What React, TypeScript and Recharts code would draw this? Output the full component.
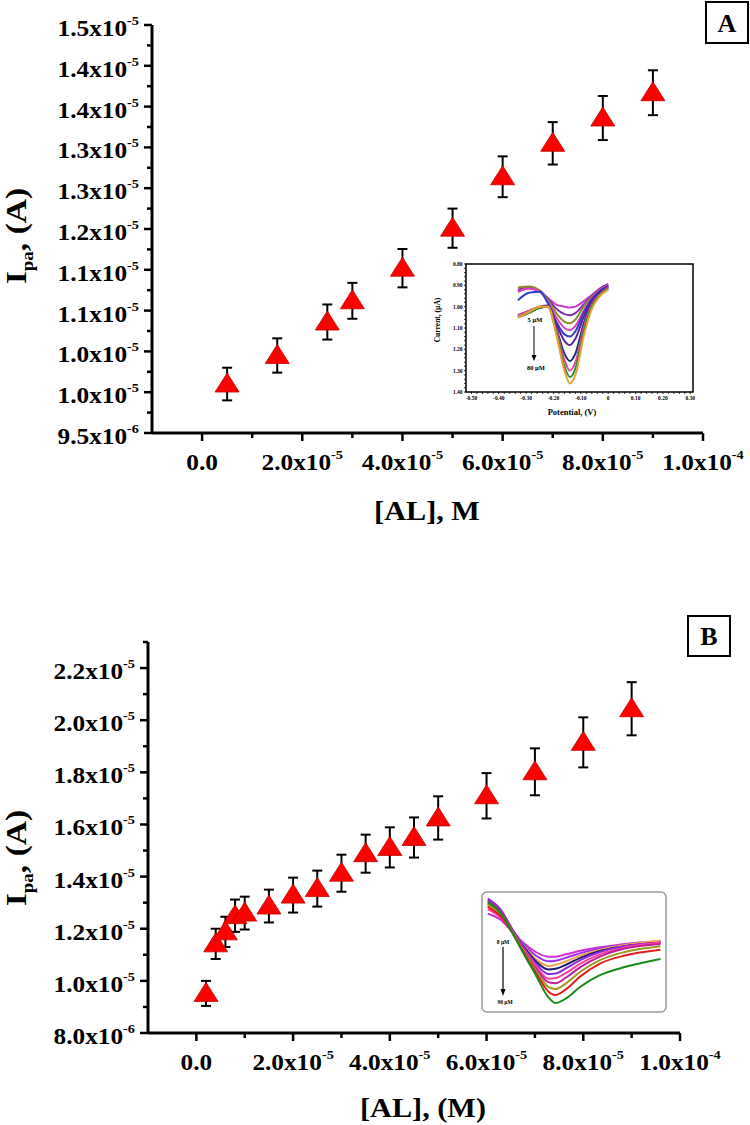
import React from 'react';
import { ScatterChart, Scatter, XAxis, YAxis, ErrorBar, LineChart, Line } from 'recharts';

const FONT = '"Liberation Serif", "Times New Roman", serif';

// ---------- panel A : Ipa vs [AL], M
const concA = [5e-6, 1.5e-5, 2.5e-5, 3e-5, 4e-5, 5e-5, 6e-5, 7e-5, 8e-5, 9e-5];
const ipaA = [1.01e-5, 1.045e-5, 1.086e-5, 1.112e-5, 1.152e-5, 1.201e-5, 1.264e-5, 1.305e-5, 1.336e-5, 1.367e-5];
const errA = [2.0e-7, 2.1e-7, 2.15e-7, 2.2e-7, 2.35e-7, 2.4e-7, 2.5e-7, 2.6e-7, 2.7e-7, 2.75e-7];

const yTicksA = [9.5e-6, 1.0e-5, 1.05e-5, 1.1e-5, 1.15e-5, 1.2e-5, 1.25e-5, 1.3e-5, 1.35e-5, 1.4e-5, 1.45e-5];
const yLabelsA = ['9.5', '1.0', '1.0', '1.1', '1.1', '1.2', '1.3', '1.3', '1.4', '1.4', '1.5'];
const yExpA = ['-6', '-5', '-5', '-5', '-5', '-5', '-5', '-5', '-5', '-5', '-5'];
const yMinorA = [9.75e-6, 1.025e-5, 1.075e-5, 1.125e-5, 1.175e-5, 1.225e-5, 1.275e-5, 1.325e-5, 1.375e-5, 1.425e-5];

// ---------- panel B : Ipa vs [AL], (M)
const concB = [2e-6, 4e-6, 6e-6, 8e-6, 1e-5, 1.5e-5, 2e-5, 2.5e-5, 3e-5, 3.5e-5, 4e-5, 4.5e-5, 5e-5, 6e-5, 7e-5, 8e-5, 9e-5];
const ipaB = [9.52e-6, 1.142e-5, 1.188e-5, 1.25e-5, 1.26e-5, 1.287e-5, 1.329e-5, 1.354e-5, 1.413e-5, 1.488e-5, 1.512e-5, 1.55e-5, 1.625e-5, 1.71e-5, 1.802e-5, 1.915e-5, 2.044e-5];
const errB = [4.8e-7, 5.8e-7, 5.8e-7, 6.2e-7, 6.3e-7, 6.3e-7, 6.7e-7, 6.9e-7, 7.1e-7, 7.3e-7, 7.7e-7, 7.7e-7, 8.3e-7, 8.7e-7, 9.0e-7, 9.6e-7, 1.02e-6];

const yTicksB = [8e-6, 1e-5, 1.2e-5, 1.4e-5, 1.6e-5, 1.8e-5, 2e-5, 2.2e-5];
const yLabelsB = ['8.0', '1.0', '1.2', '1.4', '1.6', '1.8', '2.0', '2.2'];
const yExpB = ['-6', '-5', '-5', '-5', '-5', '-5', '-5', '-5'];
const yMinorB = [9e-6, 1.1e-5, 1.3e-5, 1.5e-5, 1.7e-5, 1.9e-5, 2.1e-5, 2.3e-5];

// shared x axis
const xTicks = [0, 2e-5, 4e-5, 6e-5, 8e-5, 1e-4];
const xLabels = ['0.0', '2.0', '4.0', '6.0', '8.0', '1.0'];
const xExp = ['', '-5', '-5', '-5', '-5', '-4'];
const xMinor = [1e-5, 3e-5, 5e-5, 7e-5, 9e-5];

// ---------- inset A : DPV curves, current (uA) vs potential (V)
const potentialA = [-0.33, -0.29, -0.25, -0.22, -0.19, -0.16, -0.14, -0.12, -0.09, -0.06, -0.03, 0.0];
const traceA1 = [0.93, 0.915, 0.93, 0.96, 0.99, 1.0, 1.004, 1.0, 0.975, 0.945, 0.915, 0.895];
const traceA2 = [0.92, 0.91, 0.925, 0.965, 1.01, 1.035, 1.04, 1.03, 0.99, 0.95, 0.915, 0.895];
const traceA3 = [0.91, 0.905, 0.925, 0.97, 1.03, 1.07, 1.078, 1.06, 1.0, 0.955, 0.92, 0.9];
const traceA4 = [0.93, 0.915, 0.93, 0.98, 1.05, 1.1, 1.11, 1.09, 1.02, 0.96, 0.92, 0.9];
const traceA5 = [0.97, 0.935, 0.93, 0.985, 1.07, 1.13, 1.14, 1.115, 1.03, 0.965, 0.925, 0.905];
const traceA6 = [1.04, 1.02, 1.0, 0.995, 1.08, 1.16, 1.18, 1.15, 1.05, 0.975, 0.93, 0.905];
const traceA7 = [1.05, 1.025, 1.005, 1.0, 1.1, 1.22, 1.255, 1.22, 1.08, 0.985, 0.935, 0.91];
const traceA8 = [1.04, 1.02, 1.0, 1.0, 1.11, 1.25, 1.3, 1.26, 1.1, 0.99, 0.94, 0.91];
const traceA9 = [1.05, 1.03, 1.005, 1.0, 1.12, 1.28, 1.33, 1.29, 1.12, 1.0, 0.945, 0.915];
const traceA10 = [1.05, 1.025, 1.0, 1.0, 1.13, 1.3, 1.36, 1.32, 1.14, 1.01, 0.95, 0.92];
const tracesA = [traceA1, traceA2, traceA3, traceA4, traceA5, traceA6, traceA7, traceA8, traceA9, traceA10];
const colorsA = ['#c83cc8', '#7a2fb0', '#8c8c2a', '#e040c0', '#2f3fc4', '#5a1f9a', '#22306e', '#e04a90', '#2e8b3a', '#e8a030'];
const insetXTicks = [-0.5, -0.4, -0.3, -0.2, -0.1, 0, 0.1, 0.2, 0.3];
const insetYTicks = [0.8, 0.9, 1.0, 1.1, 1.2, 1.3, 1.4];
// small unlabelled ticks between the labelled ones
const insetXMinor = insetXTicks.slice(0, -1).flatMap((t) => [1, 2, 3, 4].map((k) => t + k * 0.02));
const insetYMinor = insetYTicks.slice(0, -1).flatMap((t) => [1, 2, 3, 4].map((k) => t + k * 0.02));

// ---------- inset B : DPV curves (no axes, normalised units)
const positionB = [0.01, 0.08, 0.15, 0.21, 0.28, 0.35, 0.39, 0.45, 0.53, 0.64, 0.78, 0.98];
const traceB1 = [0.17, 0.22, 0.33, 0.42, 0.5, 0.54, 0.54, 0.52, 0.49, 0.46, 0.43, 0.41];
const traceB2 = [0.05, 0.14, 0.31, 0.43, 0.53, 0.58, 0.575, 0.55, 0.51, 0.47, 0.44, 0.41];
const traceB3 = [0.1, 0.18, 0.32, 0.44, 0.56, 0.62, 0.61, 0.58, 0.53, 0.48, 0.44, 0.4];
const traceB4 = [0.08, 0.16, 0.32, 0.45, 0.58, 0.65, 0.645, 0.61, 0.55, 0.49, 0.45, 0.42];
const traceB5 = [0.04, 0.13, 0.31, 0.46, 0.6, 0.69, 0.685, 0.64, 0.57, 0.5, 0.45, 0.42];
const traceB6 = [0.13, 0.2, 0.33, 0.47, 0.62, 0.73, 0.725, 0.68, 0.6, 0.52, 0.46, 0.42];
const traceB7 = [0.06, 0.15, 0.32, 0.48, 0.64, 0.76, 0.77, 0.72, 0.63, 0.54, 0.47, 0.43];
const traceB8 = [0.09, 0.17, 0.33, 0.49, 0.66, 0.8, 0.82, 0.77, 0.67, 0.57, 0.5, 0.45];
const traceB9 = [0.11, 0.19, 0.34, 0.5, 0.68, 0.84, 0.87, 0.82, 0.71, 0.6, 0.53, 0.48];
const traceB10 = [0.07, 0.16, 0.34, 0.51, 0.7, 0.89, 0.94, 0.9, 0.8, 0.7, 0.63, 0.56];
const tracesB = [traceB1, traceB2, traceB3, traceB4, traceB5, traceB6, traceB7, traceB8, traceB9, traceB10];
const colorsB = ['#d12fd1', '#9b30ff', '#f0a050', '#1c1c6b', '#8a2be2', '#ff3fa0', '#c0209a', '#9a9a20', '#e02020', '#1a8a1a'];

const rowsA = concA.map((x, i) => ({ x, y: ipaA[i], err: errA[i] }));
const rowsB = concB.map((x, i) => ({ x, y: ipaB[i], err: errB[i] }));

function curveRows(xs: number[], traces: number[][]) {
  return xs.map((p, i) => {
    const r: any = { p };
    traces.forEach((t, k) => (r['t' + k] = t[i]));
    return r;
  });
}
const insetRowsA = curveRows(potentialA, tracesA);
const insetRowsB = curveRows(positionB, tracesB);

const Triangle = (p: any) => (
  <polygon
    points={`${p.cx},${p.cy - 11} ${p.cx - 12},${p.cy + 8} ${p.cx + 12},${p.cy + 8}`}
    fill="#ff0000"
    stroke="#c00000"
    strokeWidth={0.8}
  />
);
const NoMark = () => <g />;

// tick with hand-drawn tick line, label with superscript exponent
function makeTick(side: 'left' | 'bottom', major: number[], labels: string[], exps: string[]) {
  return (props: any) => {
    const { x, y, payload } = props;
    const i = major.findIndex((m) => Math.abs(m - payload.value) < 1e-12);
    const len = i >= 0 ? 8 : 5;
    const label =
      i < 0 ? null : exps[i] ? (
        <>
          {labels[i]}x10<tspan dy={-11} fontSize={13}>{exps[i]}</tspan>
        </>
      ) : (
        labels[i]
      );
    if (side === 'left') {
      return (
        <g>
          <line x1={x} x2={x - len} y1={y} y2={y} stroke="#000" strokeWidth={2.5} />
          {label && (
            <text transform={`translate(${x - 13},${y + 11}) scale(1.1,1)`} textAnchor="end" fontFamily={FONT} fontWeight="bold" fontSize={23} fill="#000">
              {label}
            </text>
          )}
        </g>
      );
    }
    return (
      <g>
        <line x1={x} x2={x} y1={y} y2={y + len} stroke="#000" strokeWidth={2.5} />
        {label && (
          <text transform={`translate(${x},${y + 37}) scale(1.1,1)`} textAnchor="middle" fontFamily={FONT} fontWeight="bold" fontSize={23} fill="#000">
            {label}
          </text>
        )}
      </g>
    );
  };
}

function MainPanel(props: {
  rows: any[];
  yDomain: [number, number];
  yMajor: number[];
  yMinor: number[];
  yLabels: string[];
  yExp: string[];
  height: number;
  margin: any;
}) {
  const { rows, yDomain, yMajor, yMinor, yLabels, yExp, height, margin } = props;
  return (
    <ScatterChart width={750} height={height} margin={margin}>
      <XAxis
        type="number"
        dataKey="x"
        domain={[-1e-5, 1e-4]}
        ticks={[...xTicks, ...xMinor].sort((a, b) => a - b)}
        interval={0}
        height={30}
        tickSize={0}
        tickMargin={0}
        allowDataOverflow
        axisLine={{ stroke: '#000', strokeWidth: 3 }}
        tickLine={false}
        tick={makeTick('bottom', xTicks, xLabels, xExp)}
      />
      <YAxis
        type="number"
        dataKey="y"
        domain={yDomain}
        ticks={[...yMajor, ...yMinor].sort((a, b) => a - b)}
        interval={0}
        width={60}
        tickSize={0}
        tickMargin={0}
        allowDataOverflow
        axisLine={{ stroke: '#000', strokeWidth: 3 }}
        tickLine={false}
        tick={makeTick('left', yMajor, yLabels, yExp)}
      />
      <Scatter data={rows} shape={Triangle} isAnimationActive={false} />
      <Scatter data={rows} shape={NoMark} isAnimationActive={false}>
        <ErrorBar dataKey="err" direction="y" width={5} stroke="#000" strokeWidth={2} />
      </Scatter>
    </ScatterChart>
  );
}

const insetTickStyle = { fontSize: 5.5, fontFamily: FONT, fontWeight: 'bold', fill: '#000' } as any;
const isLabelled = (list: number[], v: number) => list.some((t) => Math.abs(t - v) < 1e-6);

function InsetA() {
  return (
    <LineChart width={285} height={170} data={insetRowsA} margin={{ top: 9, right: 12, bottom: 18, left: 26 }}>
      <XAxis
        type="number"
        dataKey="p"
        domain={[-0.52, 0.31]}
        ticks={[...insetXTicks, ...insetXMinor].sort((a, b) => a - b)}
        interval={0}
        height={15}
        allowDataOverflow
        axisLine={false}
        tickSize={2}
        tickMargin={2}
        tickLine={{ stroke: '#000', strokeWidth: 0.8 }}
        tick={insetTickStyle}
        tickFormatter={(v: number) => (!isLabelled(insetXTicks, v) ? '' : Math.abs(v) < 1e-6 ? '0' : v.toFixed(2))}
      />
      <YAxis
        type="number"
        domain={[0.8, 1.4]}
        reversed
        ticks={[...insetYTicks, ...insetYMinor].sort((a, b) => a - b)}
        interval={0}
        width={20}
        allowDataOverflow
        axisLine={false}
        tickSize={2}
        tickMargin={1.5}
        tickLine={{ stroke: '#000', strokeWidth: 0.8 }}
        tick={insetTickStyle}
        tickFormatter={(v: number) => (isLabelled(insetYTicks, v) ? v.toFixed(2) : '')}
      />
      {tracesA.map((_, k) => (
        <Line key={k} dataKey={'t' + k} type="monotone" stroke={colorsA[k]} strokeWidth={2} dot={false} isAnimationActive={false} />
      ))}
    </LineChart>
  );
}

function InsetB() {
  return (
    <LineChart width={184} height={120} data={insetRowsB} margin={{ top: 2, right: 2, bottom: 2, left: 4 }}>
      <XAxis type="number" dataKey="p" domain={[0, 1]} hide />
      <YAxis type="number" domain={[0, 1]} reversed hide />
      {tracesB.map((_, k) => (
        <Line key={k} dataKey={'t' + k} type="monotone" stroke={colorsB[k]} strokeWidth={2} dot={false} isAnimationActive={false} />
      ))}
    </LineChart>
  );
}

const bold = { fontFamily: FONT, fontWeight: 'bold', fill: '#000' } as any;

export default function App() {
  return (
    <div style={{ position: 'absolute', left: 0, top: 0, width: 750, height: 1125, background: '#fff', overflow: 'hidden' }}>
      <div style={{ position: 'absolute', left: 0, top: 0 }}>
        <MainPanel
          rows={rowsA}
          yDomain={[9.5e-6, 1.45e-5]}
          yMajor={yTicksA}
          yMinor={yMinorA}
          yLabels={yLabelsA}
          yExp={yExpA}
          height={560}
          margin={{ top: 25, right: 47, bottom: 97, left: 92 }}
        />
      </div>
      <div style={{ position: 'absolute', left: 0, top: 560 }}>
        <MainPanel
          rows={rowsB}
          yDomain={[8e-6, 2.3e-5]}
          yMajor={yTicksB}
          yMinor={yMinorB}
          yLabels={yLabelsB}
          yExp={yExpB}
          height={565}
          margin={{ top: 82, right: 70, bottom: 62, left: 88 }}
        />
      </div>
      <div style={{ position: 'absolute', left: 420, top: 255 }}>
        <InsetA />
      </div>
      <div style={{ position: 'absolute', left: 482, top: 892 }}>
        <InsetB />
      </div>
      <svg width={750} height={1125} style={{ position: 'absolute', left: 0, top: 0, pointerEvents: 'none' }}>
        {/* panel A titles and label */}
        <text transform="translate(26,236) rotate(-90) scale(1.12,1)" textAnchor="middle" fontSize={30} {...bold}>
          I<tspan fontSize={17} dy={7}>pa</tspan>
          <tspan dy={-7}>, (A)</tspan>
        </text>
        <text transform="translate(427,520) scale(1.12,1)" textAnchor="middle" fontSize={27} {...bold}>
          [AL], M
        </text>
        <rect x={706} y={2} width={42} height={41} fill="#fff" stroke="#000" strokeWidth={2} />
        <text x={727} y={32} textAnchor="middle" fontSize={26} {...bold}>A</text>

        {/* inset A frame and annotations */}
        <rect x={466} y={264} width={227} height={128} fill="none" stroke="#000" strokeWidth={1.5} />
        <text transform="translate(440,320) rotate(-90)" textAnchor="middle" fontSize={7.5} {...bold}>Current, (µA)</text>
        <text x={572} y={415} textAnchor="middle" fontSize={8.5} {...bold}>Potential, (V)</text>
        <text x={535} y={322} textAnchor="middle" fontSize={6.5} {...bold}>5 µM</text>
        <line x1={534} y1={326} x2={534} y2={356} stroke="#000" strokeWidth={1} />
        <polygon points="531.5,355 536.5,355 534,361" fill="#000" />
        <text x={536} y={370} textAnchor="middle" fontSize={6.5} {...bold}>80 µM</text>

        {/* panel B titles and label */}
        <text transform="translate(26,858) rotate(-90) scale(1.12,1)" textAnchor="middle" fontSize={30} {...bold}>
          I<tspan fontSize={17} dy={7}>pa</tspan>
          <tspan dy={-7}>, (A)</tspan>
        </text>
        <text transform="translate(423,1117) scale(1.12,1)" textAnchor="middle" fontSize={27} {...bold}>
          [AL], (M)
        </text>
        <rect x={688} y={616} width={42} height={40} fill="#fff" stroke="#000" strokeWidth={2} />
        <text x={709} y={645} textAnchor="middle" fontSize={26} {...bold}>B</text>

        {/* inset B frame and annotations */}
        <rect x={482} y={892} width={184} height={120} rx={5} fill="none" stroke="#999" strokeWidth={1.5} />
        <text x={503} y={944} textAnchor="middle" fontSize={5.5} {...bold}>8 µM</text>
        <line x1={503} y1={947} x2={503} y2={991} stroke="#000" strokeWidth={1.2} />
        <polygon points="500.5,989 505.5,989 503,996" fill="#000" />
        <text x={505} y={1004} textAnchor="middle" fontSize={5.5} {...bold}>90 µM</text>
      </svg>
    </div>
  );
}
